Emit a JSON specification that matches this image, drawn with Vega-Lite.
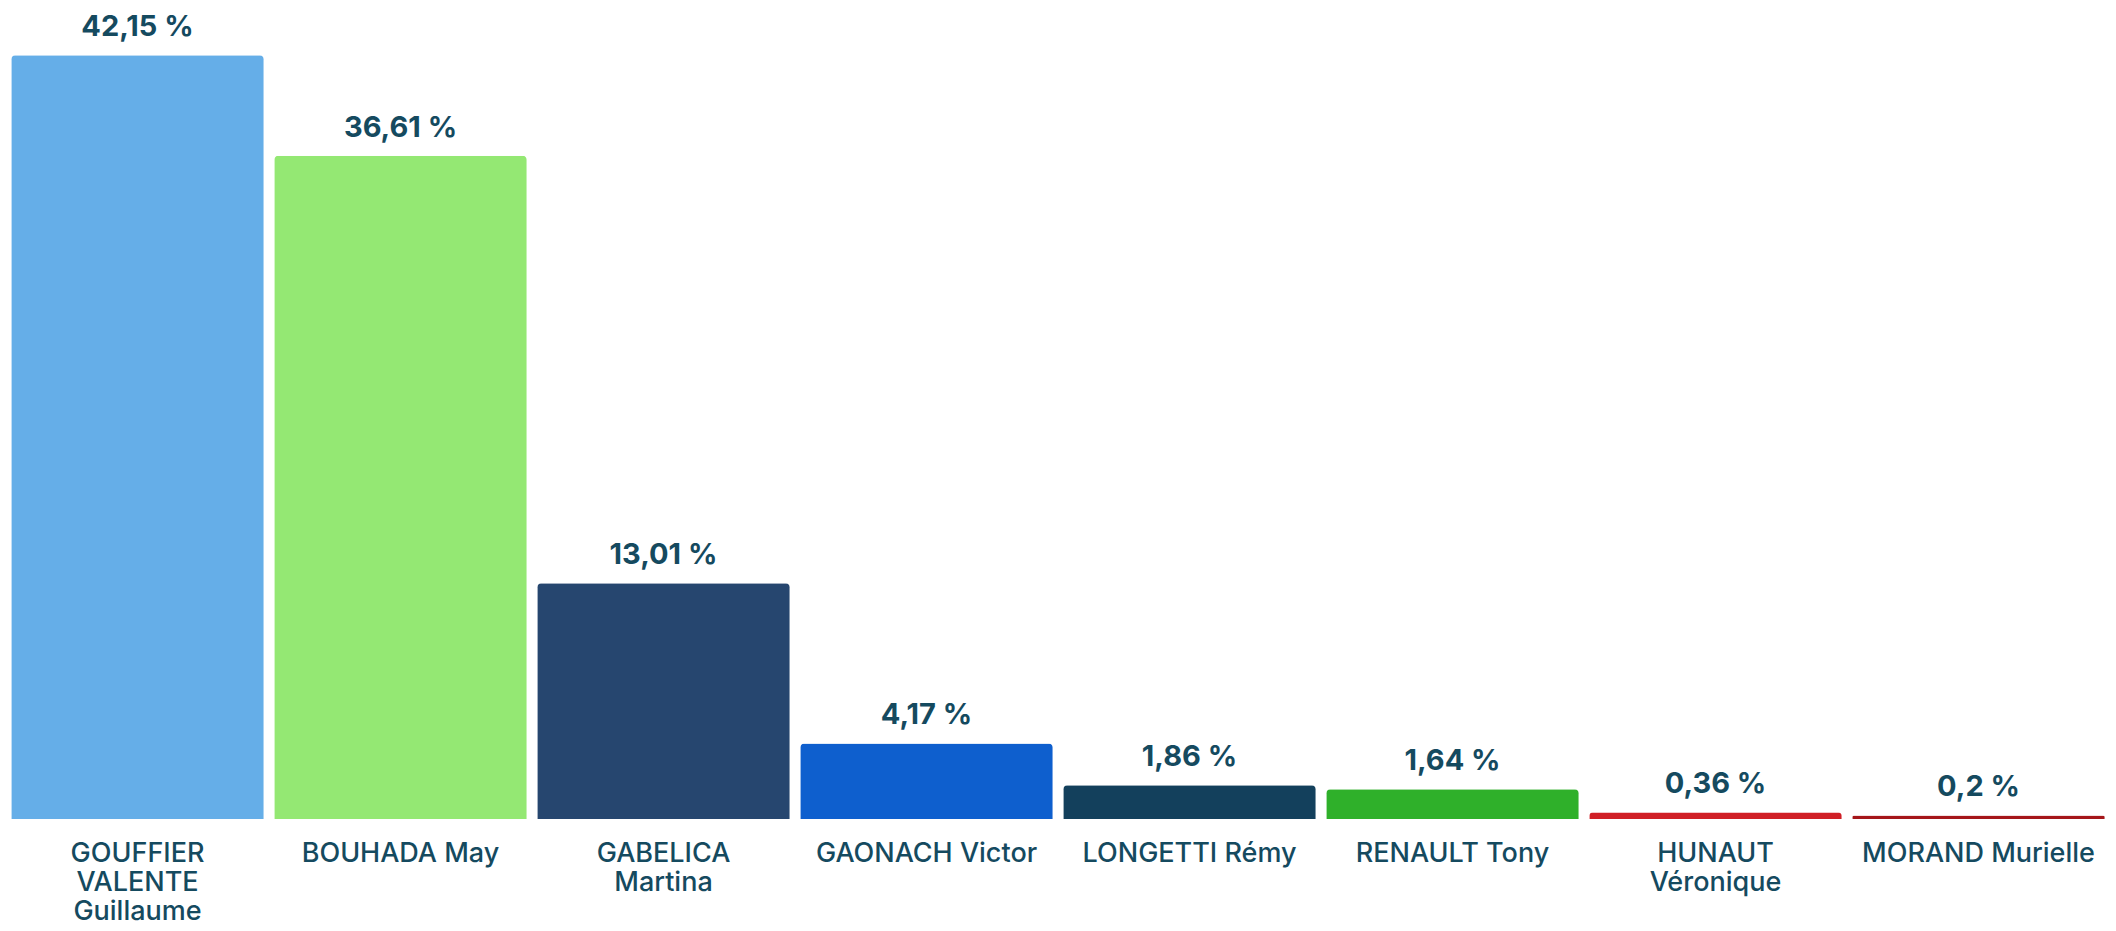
{
  "$schema": "https://vega.github.io/schema/vega-lite/v6.json",
  "width": 2104,
  "height": 819,
  "autosize": {"type": "none"},
  "padding": {"left": 6, "top": 0, "right": 6, "bottom": 112},
  "background": "white",
  "config": {"view": {"stroke": null}},
  "data": {
    "values": [
      {"candidat": "GOUFFIER VALENTE Guillaume", "pct": 42.15, "label": "42,15 %", "color": "#65aee8"},
      {"candidat": "BOUHADA May", "pct": 36.61, "label": "36,61 %", "color": "#94e873"},
      {"candidat": "GABELICA Martina", "pct": 13.01, "label": "13,01 %", "color": "#26466f"},
      {"candidat": "GAONACH Victor", "pct": 4.17, "label": "4,17 %", "color": "#0e5fce"},
      {"candidat": "LONGETTI Rémy", "pct": 1.86, "label": "1,86 %", "color": "#13405c"},
      {"candidat": "RENAULT Tony", "pct": 1.64, "label": "1,64 %", "color": "#2fb02a"},
      {"candidat": "HUNAUT Véronique", "pct": 0.36, "label": "0,36 %", "color": "#d01f26"},
      {"candidat": "MORAND Murielle", "pct": 0.2, "label": "0,2 %", "color": "#a5161a"}
    ]
  },
  "encoding": {
    "x": {
      "field": "candidat",
      "type": "nominal",
      "sort": null,
      "scale": {"paddingInner": 0.04, "paddingOuter": 0.02},
      "axis": {
        "title": null,
        "domain": false,
        "ticks": false,
        "labelAngle": 0,
        "labelFont": "Inter",
        "labelFontSize": 27,
        "labelFontWeight": 500,
        "labelColor": "#154a5f",
        "labelPadding": 21,
        "labelLineHeight": 29,
        "labelLimit": 0,
        "labelExpr": "indexof(['GOUFFIER VALENTE Guillaume','GABELICA Martina','HUNAUT Véronique'], datum.label) >= 0 ? split(datum.label, ' ') : datum.label"
      }
    },
    "y": {
      "field": "pct",
      "type": "quantitative",
      "scale": {"domain": [0, 45.2], "nice": false},
      "axis": null
    }
  },
  "layer": [
    {
      "mark": {"type": "bar", "cornerRadiusTopLeft": 4, "cornerRadiusTopRight": 4},
      "encoding": {
        "color": {"field": "color", "type": "nominal", "scale": null, "legend": null}
      }
    },
    {
      "mark": {"type": "text", "baseline": "middle", "dy": -28, "font": "Inter", "fontSize": 29, "fontWeight": 700, "color": "#154a5f"},
      "encoding": {"text": {"field": "label"}}
    }
  ]
}
